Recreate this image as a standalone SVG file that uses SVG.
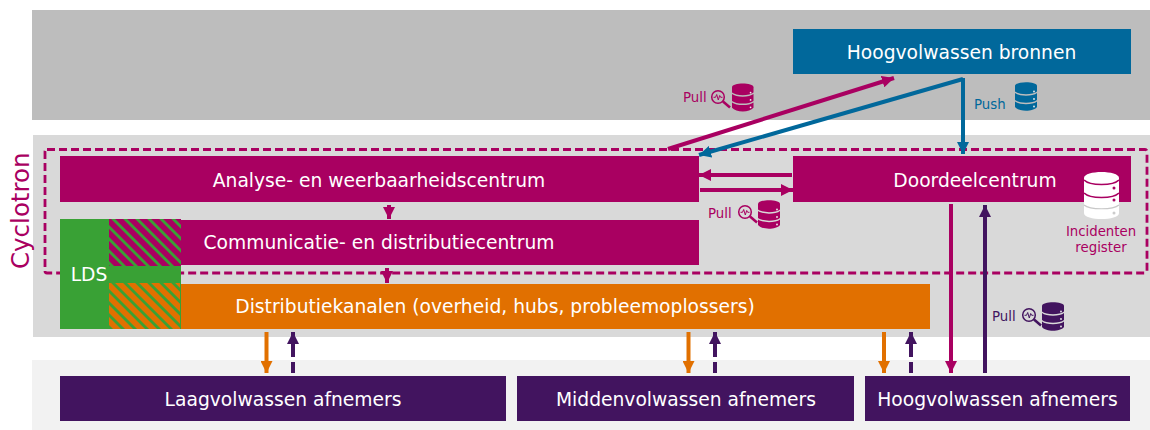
<svg xmlns="http://www.w3.org/2000/svg" width="1150" height="430" viewBox="0 0 1150 430">
<style>
text{font-family:"DejaVu Sans",Verdana,sans-serif}
.w{fill:#fff;font-size:18.700px;text-anchor:middle}
.s{font-size:13.300px}
.m{fill:#a90061}.b{fill:#01689b}.p{fill:#42145f}.o{fill:#e17000}.g{fill:#39a135}
.l{fill:none;stroke-width:4}
.lm{stroke:#a90061}.lb{stroke:#01689b}.lp{stroke:#42145f}.lo{stroke:#e17000}
</style>
<defs>
<marker id="am" markerUnits="userSpaceOnUse" markerWidth="12" markerHeight="12" refX="12" refY="6" orient="auto"><path d="M0 0L12 6L0 12z" fill="#a90061"/></marker>
<marker id="ab" markerUnits="userSpaceOnUse" markerWidth="12" markerHeight="12" refX="12" refY="6" orient="auto"><path d="M0 0L12 6L0 12z" fill="#01689b"/></marker>
<marker id="ap" markerUnits="userSpaceOnUse" markerWidth="12" markerHeight="12" refX="12" refY="6" orient="auto"><path d="M0 0L12 6L0 12z" fill="#42145f"/></marker>
<marker id="ao" markerUnits="userSpaceOnUse" markerWidth="12" markerHeight="12" refX="12" refY="6" orient="auto"><path d="M0 0L12 6L0 12z" fill="#e17000"/></marker>
<pattern id="hm" width="8.500" height="8.500" patternUnits="userSpaceOnUse" patternTransform="rotate(-45 109 219)"><rect width="8.500" height="8.500" fill="#a90061"/><rect width="2.800" height="8.500" fill="#39a135"/></pattern>
<pattern id="ho" width="8.500" height="8.500" patternUnits="userSpaceOnUse" patternTransform="rotate(-45 109 283)"><rect width="8.500" height="8.500" fill="#e17000"/><rect width="2.800" height="8.500" fill="#39a135"/></pattern>
<symbol id="db" viewBox="0 0 22 29" overflow="visible">
<path d="M0 4C0 -1 22 -1 22 4V9.500C18 13 4 13 0 9.500z"/>
<path d="M0 11C4 14.500 18 14.500 22 11V18C18 21.500 4 21.500 0 18z"/>
<path d="M0 19.500C4 23 18 23 22 19.500V25C18 30 4 30 0 25z"/>
<circle cx="19" cy="9.500" r=".9" fill="#eee"/><circle cx="19" cy="17" r=".9" fill="#eee"/><circle cx="19" cy="24.500" r=".9" fill="#eee"/>
</symbol>
<symbol id="mg" viewBox="0 0 20 20" overflow="visible">
<circle cx="7" cy="7" r="6.300" fill="none" stroke="currentColor" stroke-width="1.500"/>
<path d="M2.500 7.300H4.500L5.700 4.500L7.300 10L8.700 5.500L9.700 7.300H11.500" fill="none" stroke="currentColor" stroke-width="1"/>
<path d="M12 11.500L19 17.500" stroke="currentColor" stroke-width="2.500"/>
</symbol>
</defs>

<g id="bands">
<rect x="32" y="10" width="1118" height="110" fill="#bdbdbd"/>
<rect x="33" y="135" width="1117" height="202" fill="#d9d9d9"/>
<rect x="32" y="360" width="1118" height="70" fill="#f2f2f2"/>
</g>

<g id="cyclotron-frame">
<rect x="45" y="149.500" width="1102" height="123.500" rx="2" fill="none" stroke="#a90061" stroke-width="2.800" stroke-dasharray="8 4"/>
<text transform="translate(29 269) rotate(-90)" font-size="24.500" class="m">Cyclotron</text>
</g>

<g id="analyse"><rect x="60" y="156" width="639" height="46" class="m"/><text x="379" y="187" class="w">Analyse- en weerbaarheidscentrum</text></g>
<g id="doordeel"><rect x="793" y="156" width="338" height="46" class="m"/><text x="975" y="187" class="w">Doordeelcentrum</text></g>
<g id="lds"><rect x="60" y="219" width="121" height="110" class="g"/><text x="89" y="281" class="w">LDS</text></g>
<g id="communicatie"><rect x="181" y="220" width="518" height="45" class="m"/><rect x="109" y="219" width="72" height="47" fill="url(#hm)"/><text x="379" y="249" class="w">Communicatie- en distributiecentrum</text></g>
<g id="distributie"><rect x="181" y="284" width="749" height="45" class="o"/><rect x="109" y="283" width="71" height="46" fill="url(#ho)"/><text x="495" y="313" class="w">Distributiekanalen (overheid, hubs, probleemoplossers)</text></g>
<g id="bronnen"><rect x="793" y="29" width="338" height="45" class="b"/><text x="961.500" y="59" class="w">Hoogvolwassen bronnen</text></g>
<g id="laag"><rect x="60" y="376" width="446" height="45" class="p"/><text x="283" y="406" class="w">Laagvolwassen afnemers</text></g>
<g id="midden"><rect x="517" y="376" width="337" height="45" class="p"/><text x="686" y="406" class="w">Middenvolwassen afnemers</text></g>
<g id="hoog"><rect x="865" y="376" width="265" height="45" class="p"/><text x="997.500" y="406" class="w">Hoogvolwassen afnemers</text></g>

<g id="connectors">
<path d="M668 149L894 78" class="l lm" marker-end="url(#am)"/>
<path d="M963 79L699 155" class="l lb" marker-end="url(#ab)"/>
<path d="M963 78V154" class="l lb" marker-end="url(#ab)"/>
<path d="M792 175H699" class="l lm" marker-end="url(#am)"/>
<path d="M700 190H793" class="l lm" marker-end="url(#am)"/>
<path d="M389 205V219" class="l lm" marker-end="url(#am)"/>
<path d="M387 268V283" class="l lm" marker-end="url(#am)"/>
<path d="M951 204V373" class="l lm" marker-end="url(#am)"/>
<path d="M985 373V205" class="l lp" marker-end="url(#ap)"/>
<path d="M266.500 332V373" class="l lo" marker-end="url(#ao)"/>
<path d="M293 373V332" class="l lp" stroke-dasharray="11 5 30" marker-end="url(#ap)"/>
<path d="M688.500 332V373" class="l lo" marker-end="url(#ao)"/>
<path d="M715 373V332" class="l lp" stroke-dasharray="11 5 30" marker-end="url(#ap)"/>
<path d="M884 332V373" class="l lo" marker-end="url(#ao)"/>
<path d="M911 373V332" class="l lp" stroke-dasharray="11 5 30" marker-end="url(#ap)"/>
</g>

<g id="pull-top" color="#a90061"><text x="683" y="102" class="s m">Pull</text><use href="#mg" x="711" y="90" width="20" height="20"/><use href="#db" x="732" y="83" width="21.500" height="29" class="m"/></g>
<g id="push" color="#01689b"><text x="974" y="109" class="s b">Push</text><use href="#db" x="1015" y="82" width="22" height="29" class="b"/></g>
<g id="pull-mid" color="#a90061"><text x="708" y="218" class="s m">Pull</text><use href="#mg" x="738" y="205" width="20" height="20"/><use href="#db" x="758" y="200" width="22" height="29" class="m"/></g>
<g id="pull-low" color="#42145f"><text x="992" y="321" class="s p">Pull</text><use href="#mg" x="1022" y="308" width="20" height="20"/><use href="#db" x="1042" y="302" width="22" height="29" class="p"/></g>
<g id="register"><path d="M1084 178C1084 170 1119 170 1119 178V213C1119 221 1084 221 1084 213z" fill="#fff"/>
<path d="M1084 180C1090 186 1113 186 1119 180M1084 193C1090 199 1113 199 1119 193" fill="none" stroke="#a90061" stroke-width="1.600"/>
<path d="M1084 205C1090 210 1113 210 1119 205" fill="none" stroke="#c8c8c8" stroke-width="1.200"/>
<circle cx="1114" cy="188" r="1.500" class="m"/><circle cx="1114" cy="200" r="1.500" class="m"/><circle cx="1114" cy="213" r="1.500" fill="#ccc"/>
<text x="1101" y="236" class="s m" text-anchor="middle">Incidenten</text><text x="1101" y="252" class="s m" text-anchor="middle">register</text></g>
</svg>
